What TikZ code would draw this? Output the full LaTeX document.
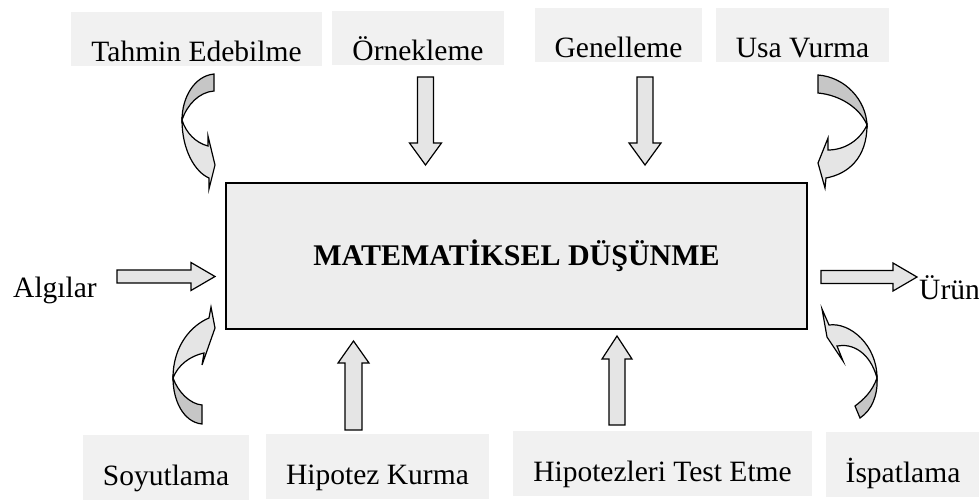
\documentclass[tikz,border=0pt]{standalone}
\usepackage{fontspec}
\setmainfont{Liberation Serif}
\tikzset{
  lbl/.style={fill=gray!11, inner xsep=20pt, inner ysep=3pt, text height=47pt, text depth=1pt,
    anchor=base, font=\fontsize{29.5}{32}\selectfont},
  blbl/.style={lbl, text depth=12pt},
  plain/.style={inner sep=0pt, font=\fontsize{29.5}{32}\selectfont},
  barrow/.style={draw=black, line width=1.2pt, fill=gray!20, line join=miter},
  backface/.style={draw=black, line width=1.2pt, fill=gray!45, line join=miter},
}
% tail, angle, length, shaft half width, head half width, head length
\newcommand{\blockarrow}[6]{%
  \draw[barrow, shift={#1}, rotate=#2] (0,-#4) -- ({#3-#6},-#4) -- ({#3-#6},-#5) -- (#3,0)
    -- ({#3-#6},#5) -- ({#3-#6},#4) -- (0,#4) -- cycle;}
\begin{document}
\begin{tikzpicture}[x=1pt,y=-1pt]
	\useasboundingbox (0,0) rectangle (979,500);

	% main box
	\node[draw, line width=1.5pt, fill=gray!14, minimum width=581pt, minimum height=146pt, inner sep=0pt] (box) at (516.5,256) {};
	\node[font=\fontsize{30}{32}\selectfont\bfseries] (title) at (box.center) {MATEMATİKSEL DÜŞÜNME};

	% labels above
	\node[lbl] (tahmin) at (196.5,62) {Tahmin Edebilme};
	\node[lbl] (ornek) at (418,61) {Örnekleme};
	\node[lbl] (genel) at (618.5,58) {Genelleme};
	\node[lbl] (usa) at (802.5,58) {Usa Vurma};

	% labels below
	\node[blbl] (soyut) at (166,485) {Soyutlama};
	\node[blbl] (hipotez) at (377.5,484) {Hipotez Kurma};
	\node[blbl] (test) at (662.5,481) {Hipotezleri Test Etme};
	\node[blbl] (ispat) at (903,482) {İspatlama};

	% left and right
	\node[plain, anchor=base] (algi) at (55,297) {Algılar};
	\node[plain, anchor=base west] (urun) at (919,299) {Ürün};

	% straight arrows
	\blockarrow{(425.5,77)}{-90}{88}{8}{16}{22}
	\blockarrow{(645,77)}{-90}{88}{8}{16}{22}
	\blockarrow{(353.5,430)}{90}{89}{8.5}{15.5}{22}
	\blockarrow{(617,425)}{90}{89}{8}{15}{23}
	\blockarrow{(117,276.5)}{0}{98}{6.5}{14}{24}
	\blockarrow{(821,277)}{0}{96}{6.5}{14}{24}

	% curved arrows
	\draw[backface] (214,74) .. controls (194,76) and (182,98) .. (182,120) .. controls (187,105) and (199,92) .. (214,91) -- cycle;
	\draw[barrow] (182,120) .. controls (182,150) and (195,172) .. (209,178) -- (209,189) -- (215,165) -- (208,136) -- (208,146) .. controls (196,143) and (186,133) .. (182,120) -- cycle;

	\draw[backface] (818,75) .. controls (845,77) and (866,100) .. (867,125) .. controls (860,108) and (840,95) .. (818,93) -- cycle;
	\draw[barrow] (867,125) .. controls (867,158) and (848,174) .. (826,178) -- (825,188) -- (818,163) -- (828,138) -- (828,150) .. controls (845,150) and (860,140) .. (867,125) -- cycle;

	\draw[backface] (202,424) .. controls (183,422) and (173,400) .. (173,378) .. controls (178,392) and (190,404) .. (202,405) -- cycle;
	\draw[barrow] (173,378) .. controls (173,345) and (192,325) .. (209,318) -- (211,307) -- (215,328) -- (202,365) -- (204,353) .. controls (190,356) and (178,365) .. (173,378) -- cycle;

	\draw[backface] (860,418) .. controls (872,410) and (878,395) .. (877,378) .. controls (872,392) and (863,400) .. (855,406) -- cycle;
	\draw[barrow] (877,378) .. controls (877,345) and (850,322) .. (829,325) -- (822,309) -- (827,337) -- (843,361) -- (837,346) .. controls (852,343) and (870,352) .. (877,378) -- cycle;
\end{tikzpicture}
\end{document}
